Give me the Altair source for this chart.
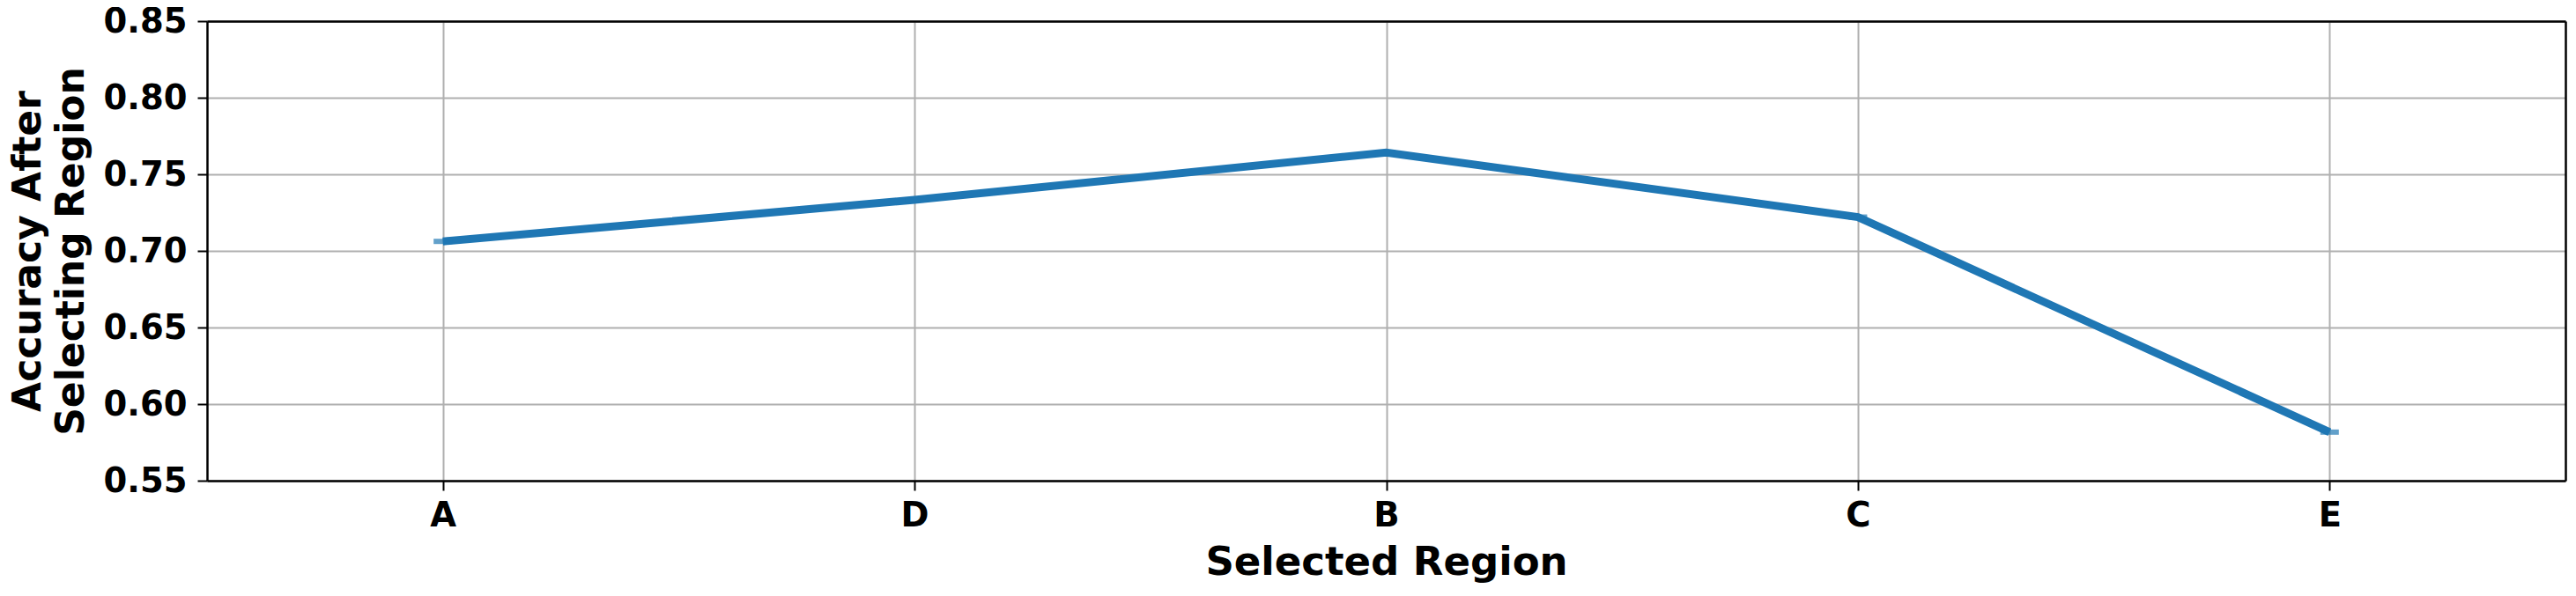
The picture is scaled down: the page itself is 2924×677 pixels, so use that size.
import altair as alt
import pandas as pd

regions = ["A", "D", "B", "C", "E"]
accuracy = [0.7062, 0.7333, 0.7642, 0.7221, 0.5817]
y_ticks = [0.55, 0.60, 0.65, 0.70, 0.75, 0.80, 0.85]

df = pd.DataFrame({"region": regions, "acc": accuracy})

FONT = "DejaVu Sans"
BLUE = "#1f77b4"
GRID = "#b0b0b0"

x_scale = alt.Scale(type="point", padding=0.5)
y_scale = alt.Scale(domain=[0.55, 0.85], nice=False, zero=False)

x_enc = alt.X(
    "region:N",
    sort=regions,
    scale=x_scale,
    axis=alt.Axis(
        title="Selected Region",
        labelAngle=0,
        labelFontSize=38.5,
        labelFont=FONT,
        labelFontWeight="bold",
        labelColor="black",
        labelPadding=10,
        titleFontSize=45,
        titleFont=FONT,
        titleFontWeight="bold",
        titleColor="black",
        titlePadding=12,
        tickSize=11,
        tickWidth=2,
        tickColor="black",
        domain=True,
        domainColor="black",
        domainWidth=2.5,
        grid=True,
        gridColor=GRID,
        gridWidth=2,
    ),
)

y_enc = alt.Y(
    "acc:Q",
    scale=y_scale,
    axis=alt.Axis(
        title=["Accuracy After", "Selecting Region"],
        values=y_ticks,
        format=".2f",
        labelFontSize=38.5,
        labelFont=FONT,
        labelFontWeight="bold",
        labelColor="black",
        labelPadding=12,
        titleFontSize=44,
        titleFont=FONT,
        titleFontWeight="bold",
        titleColor="black",
        titleLineHeight=49,
        titlePadding=14,
        tickSize=11,
        tickWidth=2,
        tickColor="black",
        domain=True,
        domainColor="black",
        domainWidth=2.5,
        grid=True,
        gridColor=GRID,
        gridWidth=2,
    ),
)

line = alt.Chart(df).mark_line(color=BLUE, strokeWidth=9).encode(x=x_enc, y=y_enc)
caps = alt.Chart(df).mark_tick(color=BLUE, orient="horizontal", size=21, thickness=6).encode(
    x=alt.X("region:N", sort=regions, scale=x_scale, axis=None),
    y=alt.Y("acc:Q", scale=y_scale, axis=None),
)

# frame: top and right spines as label-less axes
frame = alt.Chart(df).mark_point(opacity=0).encode(
    x=alt.X(
        "region:N", sort=regions, scale=x_scale,
        axis=alt.Axis(orient="top", title=None, labels=False, ticks=False, grid=False,
                      domain=True, domainColor="black", domainWidth=2.5),
    ),
    y=alt.Y(
        "acc:Q", scale=y_scale,
        axis=alt.Axis(orient="right", title=None, labels=False, ticks=False, grid=False,
                      domain=True, domainColor="black", domainWidth=2.5),
    ),
)

chart = (
    alt.layer(line, caps, frame)
    .resolve_axis(x="independent", y="independent")
    .properties(
        width=2677,
        height=522,
        autosize=alt.AutoSizeParams(type="none"),
        padding={"left": 227, "top": 16, "right": 4, "bottom": 122},
    )
    .configure_view(stroke=None)
    .configure(background="white")
)

chart.save("out.html", embed_options={"renderer": "svg", "actions": False})
